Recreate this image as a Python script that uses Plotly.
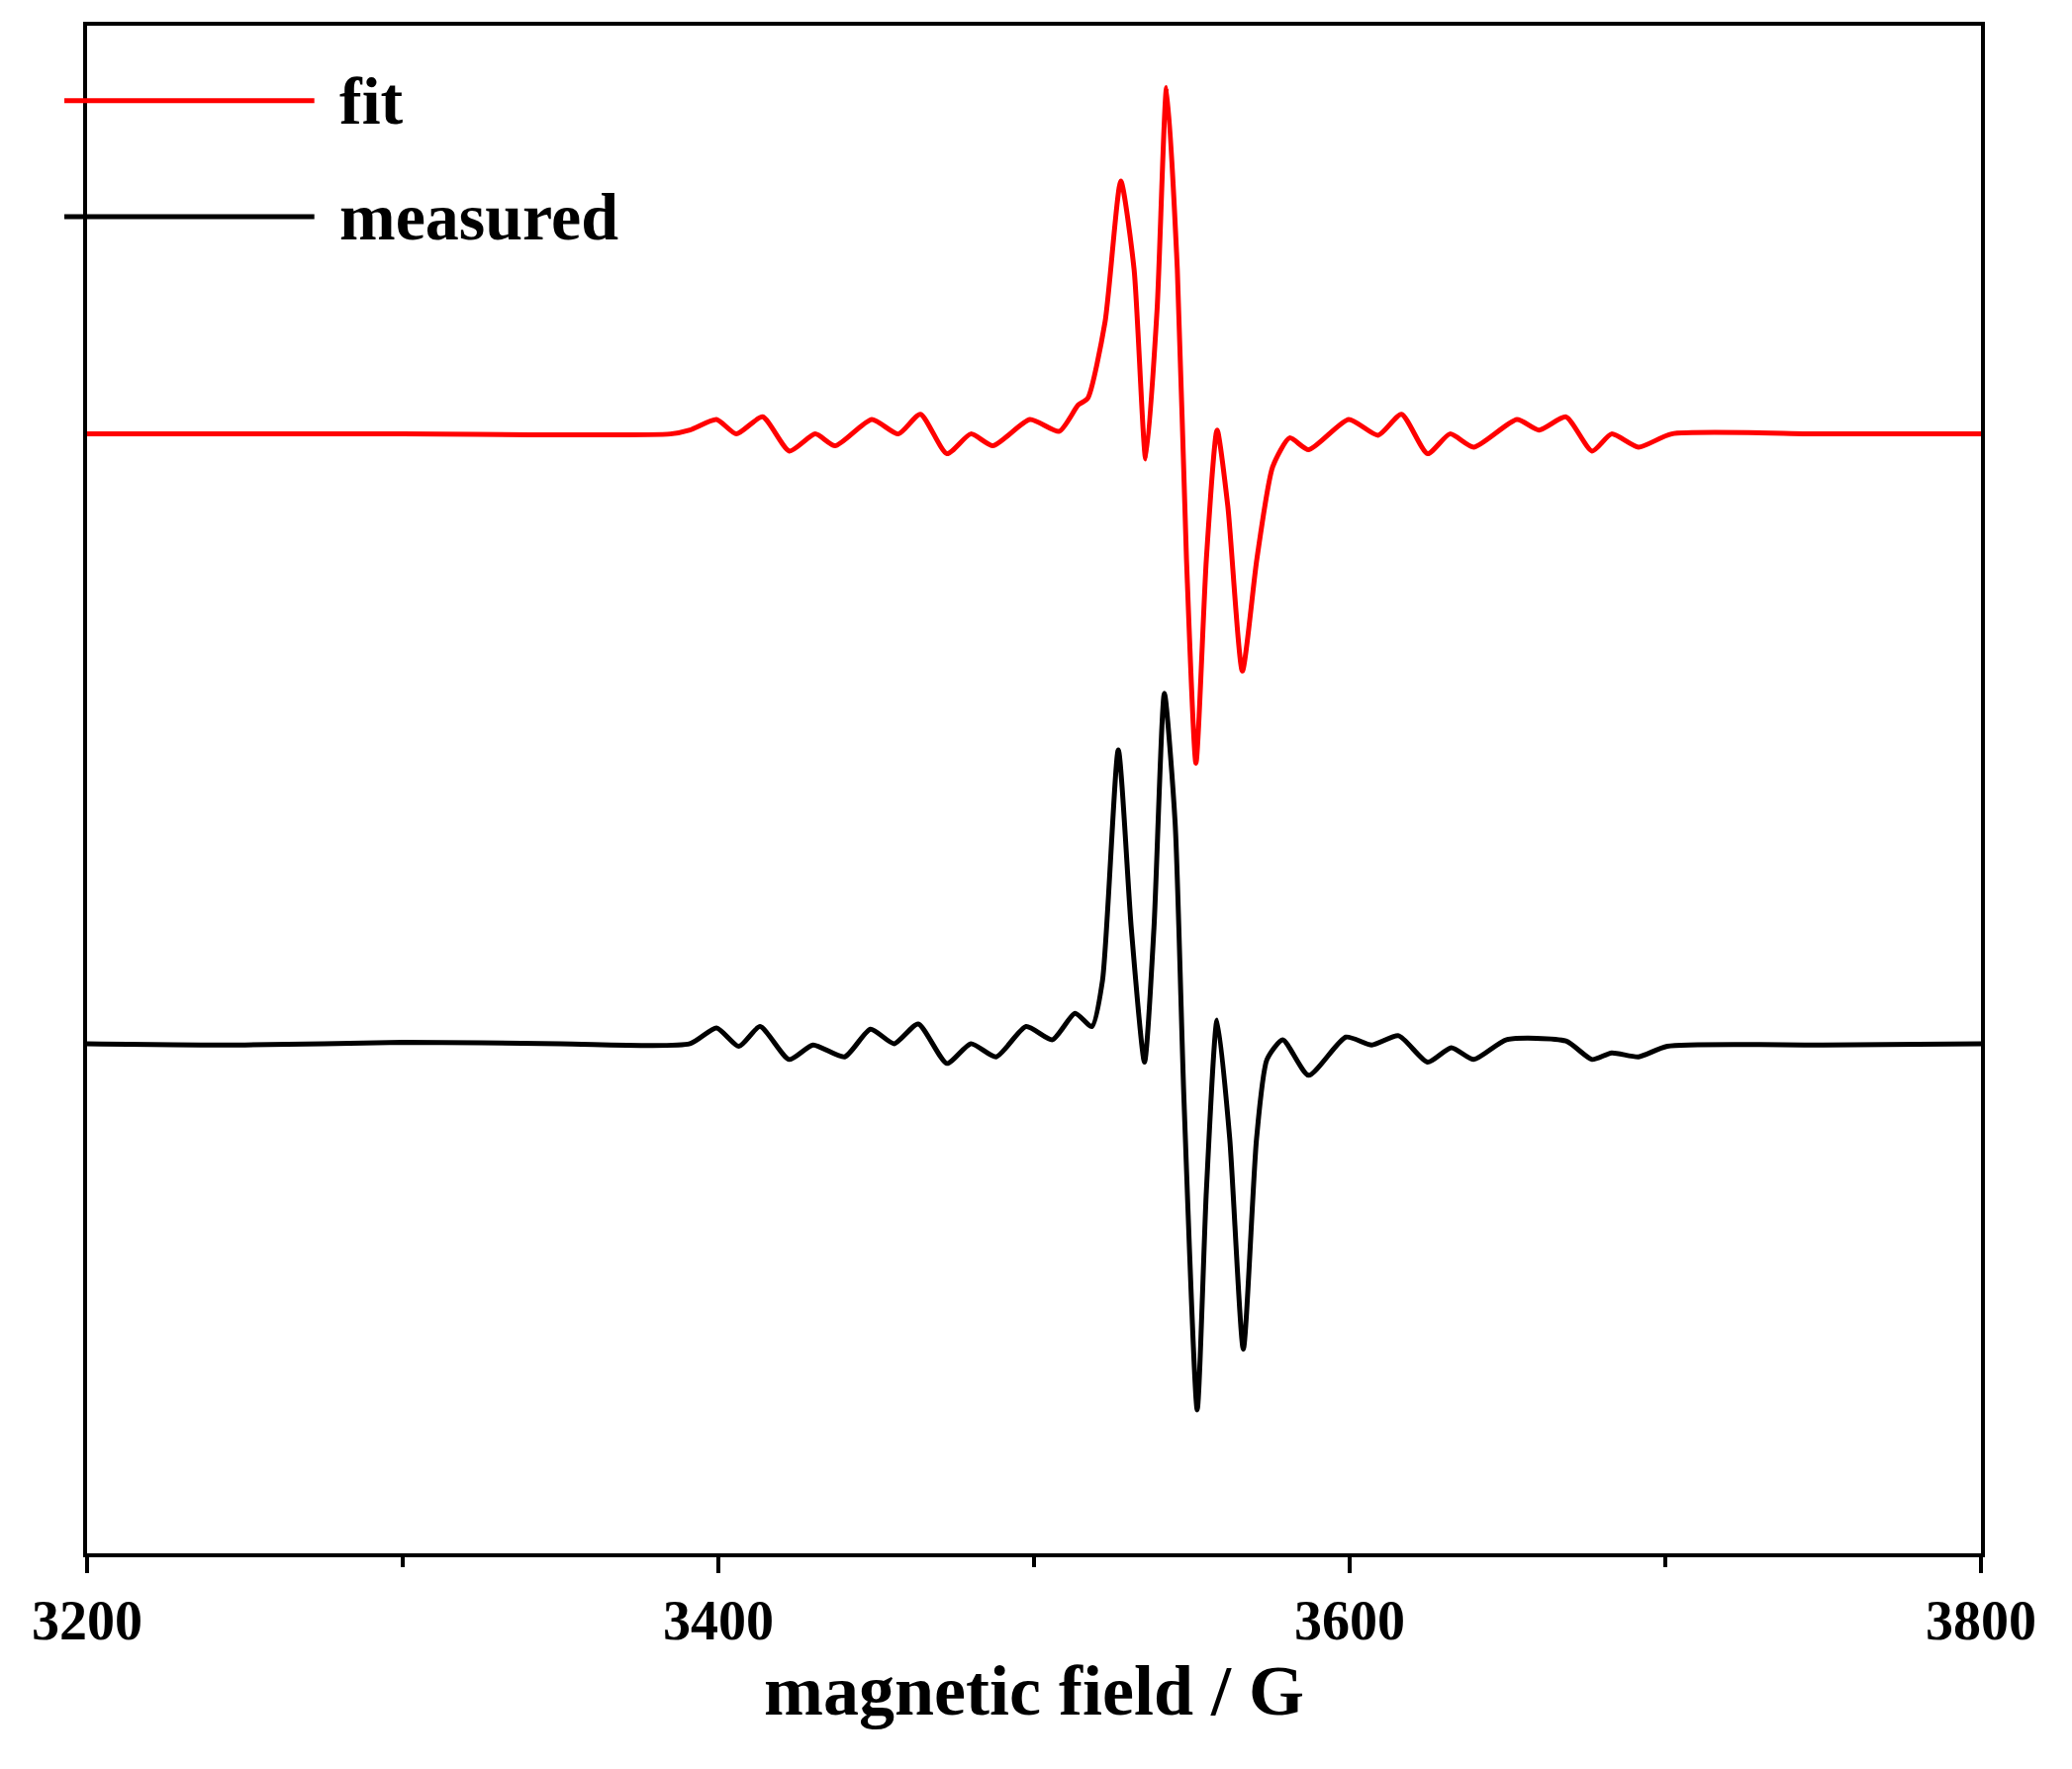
import plotly.graph_objects as go

# fit spectrum (field in G, signal in arbitrary units)
fit_x = [3200, 3300, 3384.8, 3391, 3399.4, 3405.7, 3414, 3422.5, 3430.7, 3437, 3448.6, 3457, 3464,
         3472.4, 3480, 3487, 3498.7, 3508, 3514, 3517, 3522.5, 3527.5, 3531.7, 3535.4, 3539,
         3542, 3545.4, 3548.3, 3551.3, 3554.6, 3558, 3561.4, 3566, 3570.6, 3575.6, 3581, 3587,
         3599.7, 3609, 3616.4, 3624.7, 3631.8, 3639.3, 3653, 3660, 3668.5, 3676.8, 3683, 3691.5,
         3702, 3750, 3800]
fit_y = [325, 325, 325, 322, 314, 325, 312, 338, 325, 334, 314, 325, 310,
         340, 325, 334, 314, 323, 303, 298, 240, 133, 200, 344, 230,
         62, 200, 420, 575, 420, 322, 380, 505, 420, 350, 328, 337,
         314, 326, 310, 340, 325, 335, 314, 322, 312, 338, 325, 335,
         325, 325, 325]

# measured spectrum
meas_x = [3200, 3250, 3300, 3350, 3391, 3399.4, 3406.5, 3413.2, 3422.4, 3430, 3440, 3448.2, 3455.7,
          3463.3, 3472.4, 3480, 3488, 3497.5, 3505.8, 3513, 3518.3, 3521.7, 3526.7, 3530.8,
          3535, 3538, 3541.3, 3544.7, 3547.5, 3551.7, 3554.6, 3558, 3562, 3566.3, 3570.5,
          3573.8, 3578.8, 3587, 3598.8, 3607, 3615.5, 3624.7, 3632.2, 3639.3, 3649.7, 3668.5,
          3676.8, 3683, 3691.5, 3700.6, 3750, 3800]
meas_y = [788, 789, 787, 788, 788, 776, 790, 775, 800, 789, 798, 777, 788,
          773, 803, 788, 798, 775, 785, 765, 775, 740, 565, 700,
          802, 700, 522, 620, 830, 1066, 900, 770, 860, 1020, 860,
          800, 785, 812, 783, 789, 782, 802, 791, 800, 785, 786,
          800, 795, 798, 790, 789, 788]

font = "Liberation Serif"
fig = go.Figure()
fig.add_trace(go.Scatter(x=fit_x, y=[-v for v in fit_y], mode="lines", name="fit",
                         line=dict(color="red", width=5, shape="spline", smoothing=0.6)))
fig.add_trace(go.Scatter(x=meas_x, y=[-v for v in meas_y], mode="lines", name="measured",
                         line=dict(color="black", width=5, shape="spline", smoothing=0.6)))

# manual legend
for yy, col, txt in [(0.951, "red", "fit"), (0.875, "black", "measured")]:
    fig.add_shape(type="line", xref="paper", yref="paper", x0=-0.012, x1=0.12, y0=yy, y1=yy,
                  line=dict(color=col, width=5))
    fig.add_annotation(xref="paper", yref="paper", x=0.132, y=yy, text=f"<b>{txt}</b>",
                       showarrow=False, xanchor="left", yanchor="middle",
                       font=dict(family=font, size=68, color="black"))

fig.update_layout(
    width=2094, height=1788, showlegend=False,
    plot_bgcolor="white", paper_bgcolor="white",
    margin=dict(l=80, r=100, t=18, b=226),
    font=dict(family=font, color="black"),
)
fig.update_xaxes(range=[3200, 3800], tickvals=[3200, 3400, 3600, 3800],
                 ticktext=["<b>3200</b>", "<b>3400</b>", "<b>3600</b>", "<b>3800</b>"],
                 ticks="outside", ticklen=16, tickwidth=4, tickcolor="black",
                 minor=dict(tickvals=[3300, 3500, 3700], ticks="outside", ticklen=10, tickwidth=4, tickcolor="black"),
                 showline=True, linewidth=4, linecolor="black", mirror=True, showgrid=False, zeroline=False,
                 tickfont=dict(family=font, size=56),
                 title=dict(text="<b>magnetic field / G</b>", font=dict(family=font, size=72), standoff=6))
fig.update_yaxes(range=[-1175, -15], showticklabels=False, ticks="",
                 showline=True, linewidth=4, linecolor="black", mirror=True, showgrid=False, zeroline=False)

fig.write_html("out.html")
